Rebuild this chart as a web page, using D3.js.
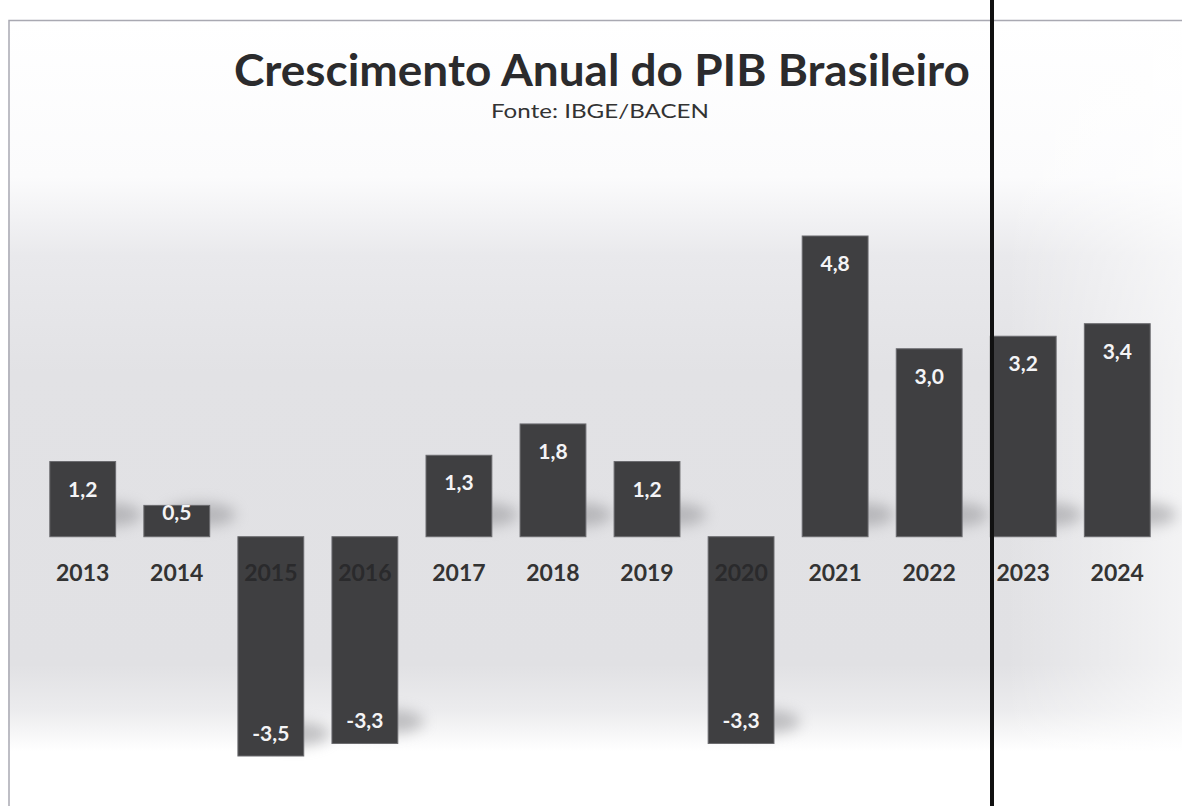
<!DOCTYPE html>
<html>
<head>
<meta charset="utf-8">
<script src="https://cdn.jsdelivr.net/npm/d3@7"></script>
<style>
  html, body { margin: 0; padding: 0; background: #fff; }
  svg { display: block; }
</style>
</head>
<body>
<div id="chart"></div>
<script>
// data
const years = ['2013', '2014', '2015', '2016', '2017', '2018', '2019', '2020', '2021', '2022', '2023', '2024'];
const growth = [1.2, 0.5, -3.5, -3.3, 1.3, 1.8, 1.2, -3.3, 4.8, 3.0, 3.2, 3.4];
const valueLabels = ['1,2', '0,5', '-3,5', '-3,3', '1,3', '1,8', '1,2', '-3,3', '4,8', '3,0', '3,2', '3,4'];
const titleText = 'Crescimento Anual do PIB Brasileiro';
const subtitleText = 'Fonte: IBGE/BACEN';

const width = 1182, height = 806;
const font = 'Lato, "Open Sans", sans-serif';

const svg = d3.select('#chart').append('svg')
              .attr('width', width)
              .attr('height', height);

const defs = svg.append('defs');

// paper-like background, white top and bottom, grey in the middle
const bg = defs.append('linearGradient')
               .attr('id', 'bg')
               .attr('x1', 0).attr('y1', 0).attr('x2', 0).attr('y2', 1);
[[0, '#ffffff'], [0.2, '#fbfbfc'], [0.3, '#e9e9ec'], [0.45, '#e2e2e5'],
 [0.82, '#e1e1e4'], [0.88, '#ececee'], [0.93, '#ffffff'], [1, '#ffffff']]
  .forEach(s => bg.append('stop').attr('offset', s[0]).attr('stop-color', s[1]));

const fade = defs.append('linearGradient')
                 .attr('id', 'fade')
                 .attr('x1', 0).attr('y1', 0).attr('x2', 1).attr('y2', 0);
[[0, 'rgba(255,255,255,0)'], [0.85, 'rgba(255,255,255,0)'], [1, 'rgba(255,255,255,0.6)']]
  .forEach(s => fade.append('stop').attr('offset', s[0]).attr('stop-color', s[1]));

defs.append('filter').attr('id', 'blur')
    .attr('x', '-50%').attr('y', '-200%').attr('width', '200%').attr('height', '500%')
    .append('feGaussianBlur').attr('stdDeviation', 7);

svg.append('rect')
   .attr('x', 8).attr('y', 20)
   .attr('width', width - 8).attr('height', height - 20)
   .attr('fill', 'url(#bg)');
svg.append('rect')
   .attr('x', 8).attr('y', 20)
   .attr('width', width - 8).attr('height', height - 20)
   .attr('fill', 'url(#fade)');

// frame
svg.append('path')
   .attr('d', `M9,${height} V20.5 H${width}`)
   .attr('fill', 'none')
   .attr('stroke', '#a9a9b2')
   .attr('stroke-width', 1.5);

// scales
const x = d3.scaleBand()
            .domain(years)
            .range([31, 1169])
            .paddingInner(0.3)
            .paddingOuter(0.2);

const y = d3.scaleLinear()
            .domain([-3.5, 4.8])
            .range([756, 236]);

const zero = y(0);

// soft shadows behind bars
svg.append('g').selectAll('ellipse')
   .data(growth)
   .join('ellipse')
   .attr('cx', (d, i) => x(years[i]) + x.bandwidth() * 0.85)
   .attr('cy', d => d > 0 ? zero - 22 : y(d) - 22)
   .attr('rx', x.bandwidth() * 0.55)
   .attr('ry', 12)
   .attr('fill', '#8a8a8e')
   .attr('opacity', 0.5)
   .attr('filter', 'url(#blur)');

// bars
svg.append('g').selectAll('rect')
   .data(growth)
   .join('rect')
   .attr('x', (d, i) => x(years[i]))
   .attr('y', d => Math.min(y(d), zero))
   .attr('width', x.bandwidth())
   .attr('height', d => Math.abs(y(d) - zero))
   .attr('fill', '#3f3f41')
   .attr('stroke', '#6a6a6e')
   .attr('stroke-width', 1);

// year labels (dark, even where they sit on the negative bars)
svg.append('g').selectAll('text')
   .data(years)
   .join('text')
   .attr('x', d => x(d) + x.bandwidth() / 2)
   .attr('y', zero + 44)
   .attr('text-anchor', 'middle')
   .attr('font-family', font)
   .attr('font-weight', 700)
   .attr('font-size', 23)
   .attr('fill', (d, i) => growth[i] < 0 ? '#2a2a2c' : '#333')
   .text(d => d);

// value labels inside bars
svg.append('g').selectAll('text')
   .data(growth)
   .join('text')
   .attr('x', (d, i) => x(years[i]) + x.bandwidth() / 2)
   .attr('y', d => {
     if (d < 0) return y(d) - 15;
     if (d < 1) return y(d) + 15;
     return y(d) + 35;
   })
   .attr('text-anchor', 'middle')
   .attr('font-family', font)
   .attr('font-weight', 700)
   .attr('font-size', 21)
   .attr('fill', '#f4f4f6')
   .text((d, i) => valueLabels[i]);

// titles
svg.append('text')
   .attr('x', 602).attr('y', 86)
   .attr('text-anchor', 'middle')
   .attr('font-family', font)
   .attr('font-weight', 700)
   .attr('font-size', 44)
   .attr('textLength', 736)
   .attr('lengthAdjust', 'spacingAndGlyphs')
   .attr('fill', '#2b2b2d')
   .text(titleText);

svg.append('text')
   .attr('x', 600).attr('y', 118)
   .attr('text-anchor', 'middle')
   .attr('font-family', font)
   .attr('font-size', 19)
   .attr('textLength', 218)
   .attr('lengthAdjust', 'spacingAndGlyphs')
   .attr('fill', '#333')
   .text(subtitleText);

// vertical black marker line
svg.append('line')
   .attr('x1', 992).attr('x2', 992)
   .attr('y1', 0).attr('y2', height)
   .attr('stroke', '#111')
   .attr('stroke-width', 4);
</script>
</body>
</html>
